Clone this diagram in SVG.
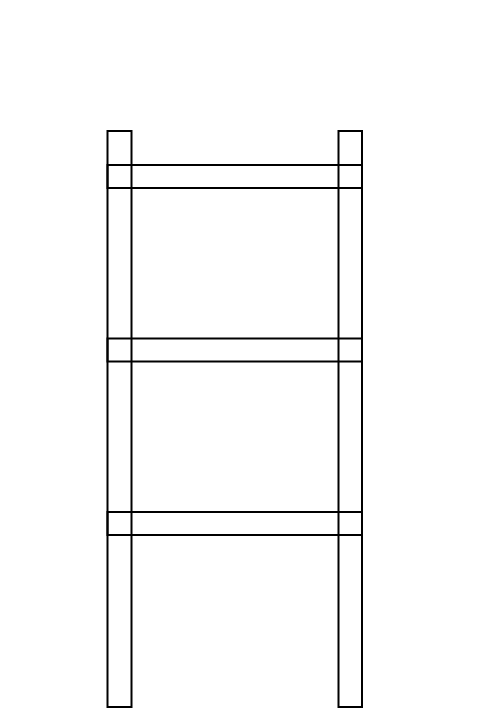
<svg xmlns="http://www.w3.org/2000/svg" width="492" height="723" viewBox="0 0 492 723">
<style>
rect.p{fill:none;stroke:#000;stroke-width:2}
</style>
<rect width="492" height="723" fill="#fff"/>
<g id="rail-left"><rect class="p" x="107.5" y="131" width="24" height="576"/></g>
<g id="rail-right"><rect class="p" x="338.5" y="131" width="23.5" height="576"/></g>
<g id="rung-1"><rect class="p" x="107.5" y="165" width="254.5" height="23"/></g>
<g id="rung-2"><rect class="p" x="107.5" y="338.5" width="254.5" height="23"/></g>
<g id="rung-3"><rect class="p" x="107.5" y="512" width="254.5" height="23"/></g>
<g id="connectors"></g>
</svg>
